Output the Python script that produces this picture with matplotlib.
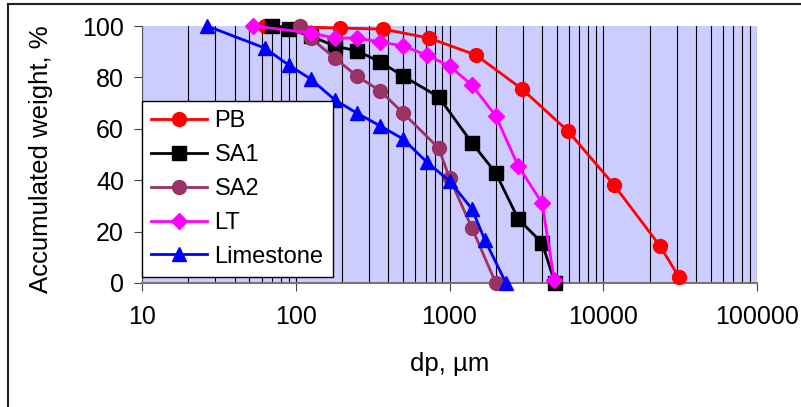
import matplotlib
matplotlib.use('Agg')
import matplotlib.pyplot as plt
from matplotlib.lines import Line2D
from matplotlib.ticker import LogLocator, FixedLocator, NullFormatter

plt.rcParams['font.family'] = ['Liberation Sans', 'DejaVu Sans']

# particle size (um) vs accumulated weight (%)
pb_x = [63, 194, 369, 736, 1486, 2960, 5900, 11750, 23400, 31100]
pb_y = [100, 99.2, 98.8, 95.3, 88.7, 75.5, 59.1, 38.1, 14.4, 2.3]

sa1_x = [70, 90, 125, 180, 250, 355, 500, 850, 1400, 2000, 2800, 4000, 4850]
sa1_y = [100, 98.8, 96.1, 92.2, 90.3, 86.0, 80.5, 72.4, 54.5, 42.8, 24.9, 15.6, 0]

sa2_x = [106, 125, 180, 250, 355, 500, 850, 1000, 1400, 2000]
sa2_y = [100, 95.3, 87.5, 80.5, 74.7, 66.1, 52.5, 40.9, 21.4, 0]

lt_x = [53, 125, 180, 250, 355, 500, 710, 1000, 1400, 2000, 2800, 4000, 4800]
lt_y = [100, 97.3, 95.3, 95.3, 93.8, 92.2, 88.7, 84.4, 77.0, 65.0, 45.5, 31.1, 1.2]

lime_x = [26.5, 63, 90, 125, 180, 250, 355, 500, 710, 1000, 1400, 1700, 2330]
lime_y = [100, 91.4, 84.8, 79.4, 71.2, 66.1, 61.1, 56.0, 47.1, 39.7, 28.8, 16.7, 0]

series = [
    ('PB', pb_x, pb_y, '#FF0000', 'o', 10),
    ('SA1', sa1_x, sa1_y, '#000000', 's', 10.5),
    ('SA2', sa2_x, sa2_y, '#993366', 'o', 10),
    ('LT', lt_x, lt_y, '#FF00FF', 'D', 8),
    ('Limestone', lime_x, lime_y, '#0000FF', '^', 10.5),
]

fig = plt.figure(figsize=(8.01, 4.07), dpi=100)
ax = fig.add_axes([142 / 801, 1 - 283 / 407, 615 / 801, 257 / 407])
ax.set_facecolor('#CCCCFF')

for name, xs, ys, col, mk, ms in series:
    ax.plot(xs, ys, color=col, lw=2, marker=mk, ms=ms,
            mfc=col, mec=col, label=name, clip_on=False, zorder=3)

ax.set_xscale('log')
ax.set_xlim(10, 100000)
ax.set_ylim(0, 100)
ax.set_xticks([10, 100, 1000, 10000, 100000])
ax.set_xticklabels(['10', '100', '1000', '10000', '100000'])
ax.xaxis.set_minor_locator(LogLocator(base=10, subs=range(2, 10)))
ax.xaxis.set_minor_formatter(NullFormatter())
ax.set_yticks([0, 20, 40, 60, 80, 100])

ax.grid(True, which='both', axis='x', color='black', lw=0.8)
ax.yaxis.set_minor_locator(FixedLocator([20, 40, 60, 80]))
ax.grid(True, which='minor', axis='y', color='black', lw=0.8)
ax.set_axisbelow(True)

for s in ['top', 'right']:
    ax.spines[s].set_visible(False)
ax.spines['left'].set_color('#555555')
ax.spines['bottom'].set_color('#777777')
ax.spines['bottom'].set_linewidth(1.5)

ax.tick_params(axis='both', which='major', labelsize=18, length=6, width=0.8, color='#444444')
ax.tick_params(axis='x', which='major', pad=10)
ax.tick_params(axis='y', which='major', pad=7)
ax.tick_params(axis='x', which='minor', length=0)
ax.tick_params(axis='y', which='minor', length=0)

ax.set_xlabel('dp, µm', fontsize=18.5)
ax.xaxis.set_label_coords(0.5, -0.27)
ax.set_ylabel('Accumulated weight, %', fontsize=18.5)
ax.yaxis.set_label_coords(-0.145, 0.48)

leg = ax.legend(loc='lower left', bbox_to_anchor=(0, 0.023), borderaxespad=0,
                fancybox=False, framealpha=1, edgecolor='black', fontsize=17,
                handlelength=2.37, handletextpad=0.3, labelspacing=0.5,
                borderpad=0.4, numpoints=1)
leg.get_frame().set_linewidth(1.0)
leg.set_zorder(5)

# outer chart frame (only left and top edges visible)
fig.add_artist(Line2D([8 / 801, 8 / 801], [0, 1 - 4 / 407], transform=fig.transFigure,
                      color='#222222', lw=1.5))
fig.add_artist(Line2D([8 / 801, 1], [1 - 4 / 407, 1 - 4 / 407], transform=fig.transFigure,
                      color='#222222', lw=1.5))

fig.savefig('out.png', dpi=100)
